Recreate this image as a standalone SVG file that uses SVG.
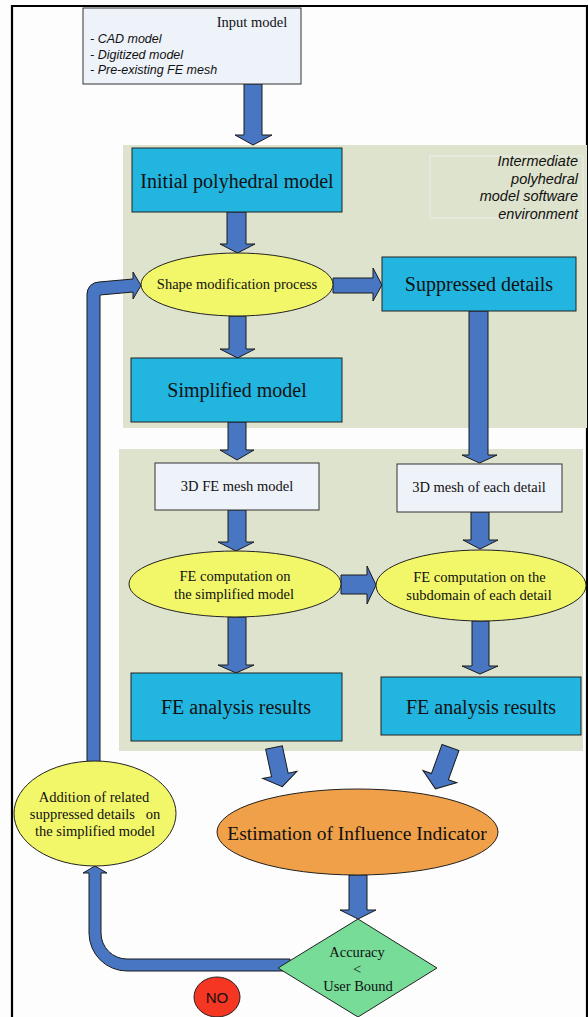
<svg xmlns="http://www.w3.org/2000/svg" width="588" height="1017" viewBox="0 0 588 1017">
<style>
.bg{fill:#fdfdfd}
.frame{fill:none;stroke:#000;stroke-width:2.2}
.panel{fill:#dee3cd}
.cyan{fill:#22b5e0;stroke:#222;stroke-width:1}
.light{fill:#eef2f9;stroke:#333;stroke-width:1}
.yellow{fill:#f2f76a;stroke:#222;stroke-width:1}
.orange{fill:#f0a048;stroke:#222;stroke-width:1}
.green{fill:#76dc98;stroke:#222;stroke-width:1}
.red{fill:#f53623;stroke:#222;stroke-width:1}
.arrow{fill:#4876c2;stroke:#1a1a1a;stroke-width:1;stroke-linejoin:miter}
.serif{font-family:"Liberation Serif","Times New Roman",serif;fill:#111;text-anchor:middle}
.it{font-family:"Liberation Sans",Arial,sans-serif;font-style:italic;fill:#111}
.t20{font-size:20px}
.t14{font-size:14.5px}
</style>
<rect class="bg" x="0" y="0" width="588" height="1017"/>
<path class="frame" d="M12,1017 L12,6 L587,6 L587,1017"/>

<g id="panel-top"><rect class="panel" x="123" y="145" width="464" height="283"/></g>
<g id="panel-bottom"><rect class="panel" x="119" y="449" width="464" height="302"/></g>

<g id="env-label">
<rect x="430" y="156" width="153" height="62" fill="none" stroke="#eeeeee" stroke-width="1"/>
<text class="it" font-size="14.5" text-anchor="end"><tspan x="578" y="166">Intermediate</tspan><tspan x="578" y="183.5">polyhedral</tspan><tspan x="578" y="201">model software</tspan><tspan x="578" y="218.5">environment</tspan></text>
</g>

<g id="connectors">
<polygon class="arrow" points="244,84 262,84 262,135 272,135 253,145 235,135 244,135"/>
<polygon class="arrow" points="227,212 246,212 246,244 255,244 237.5,253 220,244 227,244"/>
<polygon class="arrow" points="229,316 246,316 246,349 255,349 237.5,358 220,349 229,349"/>
<polygon class="arrow" points="228,422 246,422 246,450 254,450 237,460 220,450 228,450"/>
<polygon class="arrow" points="228,510 246,510 246,542 254,542 236,551 218,542 228,542"/>
<polygon class="arrow" points="228,617 246,617 246,665 254,665 236,673 218,665 228,665"/>
<polygon class="arrow" points="469,311 488,311 488,455 497,455 479.5,463 462,455 469,455"/>
<polygon class="arrow" points="471,512 489,512 489,540 498,540 480,549 463,540 471,540"/>
<polygon class="arrow" points="472,621 489,621 489,666 498,666 480,674 462,666 472,666"/>
<polygon class="arrow" points="349,875 367,875 367,910 376,910 358,919 340,910 349,910"/>
<polygon class="arrow" points="333,278 373,278 373,268 382,285 373,301 373,293 333,293"/>
<polygon class="arrow" points="341,575 367,575 367,566 376,585 367,604 367,594 341,594"/>
<polygon class="arrow" transform="translate(274,747.5) rotate(-12)" points="-8.5,0 8.5,0 8.5,28 17.5,28 0,40 -17.5,28 -8.5,28"/>
<polygon class="arrow" transform="translate(450.5,747.5) rotate(20)" points="-9,0 9,0 9,31 18,31 0,44 -18,31 -9,31"/>
<path class="arrow" d="M290,959 L127,959 A26,26 0 0 1 101,933 L101,873 L107,873 L95,866 L83,873 L89,873 L89,933 A38,38 0 0 0 127,971 L290,971 Z"/>
<path class="arrow" d="M87,765 L87,294 A12,12 0 0 1 99,282 L133,279 L133,272 L141,285.5 L133,299 L133,292 L100,295 L100,765 Z"/>
</g>

<g id="input-model">
<rect class="light" x="83" y="8" width="218" height="76"/>
<text class="serif" x="252" y="27" font-size="14.5">Input model</text>
<text class="it" font-size="12.5"><tspan x="90" y="43">- CAD model</tspan><tspan x="90" y="58.5">- Digitized model</tspan><tspan x="90" y="74">- Pre-existing FE mesh</tspan></text>
</g>

<g id="initial-polyhedral">
<rect class="cyan" x="132" y="148" width="210" height="64"/>
<text class="serif t20" x="237" y="188">Initial polyhedral model</text>
</g>

<g id="shape-modification">
<ellipse class="yellow" cx="237" cy="284.5" rx="96" ry="31.5"/>
<text class="serif t14" x="237" y="289">Shape modification process</text>
</g>

<g id="suppressed-details">
<rect class="cyan" x="382" y="257" width="194" height="54"/>
<text class="serif t20" x="479" y="291">Suppressed details</text>
</g>

<g id="simplified-model">
<rect class="cyan" x="131" y="358" width="211" height="64"/>
<text class="serif t20" x="237" y="397">Simplified model</text>
</g>

<g id="fe-mesh-model">
<rect class="light" x="155" y="463" width="164" height="47"/>
<text class="serif t14" x="237" y="491">3D FE mesh model</text>
</g>

<g id="mesh-each-detail">
<rect class="light" x="397" y="464" width="165" height="48"/>
<text class="serif t14" x="479" y="492">3D mesh of each detail</text>
</g>

<g id="fe-comp-simplified">
<ellipse class="yellow" cx="235" cy="584" rx="106" ry="33"/>
<text class="serif t14"><tspan x="235" y="581">FE computation on</tspan><tspan x="234" y="599">the simplified model</tspan></text>
</g>

<g id="fe-comp-subdomain">
<ellipse class="yellow" cx="481" cy="585.5" rx="105" ry="35.5"/>
<text class="serif t14"><tspan x="479.5" y="582">FE computation on the</tspan><tspan x="479" y="600">subdomain of each detail</tspan></text>
</g>

<g id="fe-results-left">
<rect class="cyan" x="131" y="673" width="211" height="68"/>
<text class="serif t20" x="236" y="714">FE analysis results</text>
</g>

<g id="fe-results-right">
<rect class="cyan" x="381" y="677" width="200" height="58"/>
<text class="serif t20" x="481" y="714">FE analysis results</text>
</g>

<g id="addition">
<ellipse class="yellow" cx="95" cy="813.5" rx="81" ry="52.5"/>
<text class="serif t14" xml:space="preserve"><tspan x="94" y="802">Addition of related</tspan><tspan x="95" y="819">suppressed details   on</tspan><tspan x="95" y="836">the simplified model</tspan></text>
</g>

<g id="estimation">
<ellipse class="orange" cx="357.5" cy="832" rx="140.5" ry="43"/>
<text class="serif" x="357" y="840" font-size="19.5">Estimation of Influence Indicator</text>
</g>

<g id="accuracy">
<polygon class="green" points="358,919 437,968 358,1017 278,968"/>
<text class="serif t14"><tspan x="357" y="957">Accuracy</tspan><tspan x="357" y="974">&lt;</tspan><tspan x="358" y="991">User Bound</tspan></text>
</g>

<g id="no-label">
<ellipse class="red" cx="217" cy="997" rx="23" ry="20"/>
<text x="217" y="1002.5" font-family="Liberation Sans,Arial,sans-serif" font-size="15" text-anchor="middle" fill="#111">NO</text>
</g>
</svg>
